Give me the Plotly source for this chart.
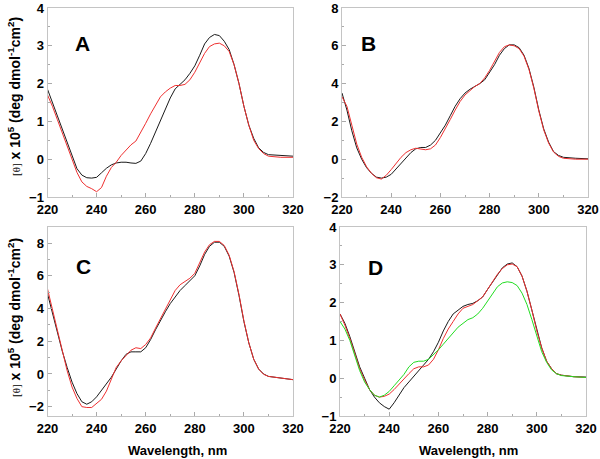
import plotly.graph_objects as go

wl = [220, 222, 224, 226, 228, 230, 232, 234, 236, 238, 240, 242, 244, 246, 248, 250,
      252, 254, 256, 258, 260, 262, 264, 266, 268, 270, 272, 274, 276, 278, 280, 282,
      284, 286, 288, 290, 292, 294, 296, 298, 300, 302, 304, 306, 308, 310, 315, 320]

a_black = [1.85, 1.5, 1.15, 0.8, 0.45, 0.1, -0.25, -0.42, -0.49, -0.5, -0.48, -0.36, -0.24, -0.15, -0.1, -0.08,
           -0.08, -0.1, -0.11, -0.05, 0.15, 0.42, 0.72, 1.02, 1.32, 1.62, 1.86, 1.98, 2.1, 2.27, 2.47, 2.75,
           3.05, 3.22, 3.3, 3.27, 3.12, 2.9, 2.5, 2.0, 1.4, 0.9, 0.55, 0.3, 0.18, 0.12, 0.1, 0.08]
a_red = [1.7, 1.4, 1.05, 0.7, 0.35, 0.0, -0.35, -0.6, -0.72, -0.78, -0.86, -0.75, -0.45, -0.22, -0.08, 0.1,
         0.25, 0.38, 0.48, 0.7, 0.95, 1.2, 1.42, 1.65, 1.78, 1.88, 1.95, 1.95, 1.98, 2.1, 2.3, 2.55,
         2.8, 2.98, 3.05, 3.07, 3.0, 2.85, 2.5, 2.0, 1.4, 0.9, 0.5, 0.28, 0.15, 0.08, 0.05, 0.05]

b_black = [3.5, 2.6, 1.5, 0.6, 0.0, -0.45, -0.75, -0.95, -1.0, -0.95, -0.8, -0.5, -0.2, 0.1, 0.35, 0.55,
           0.62, 0.62, 0.75, 1.0, 1.4, 1.8, 2.3, 2.8, 3.2, 3.5, 3.7, 3.85, 4.0, 4.2, 4.6, 5.0,
           5.5, 5.85, 6.05, 6.05, 5.9, 5.5, 4.8, 3.8, 2.6, 1.6, 0.9, 0.4, 0.2, 0.1, 0.05, 0.02]
b_red = [3.3, 2.8, 1.8, 0.8, 0.1, -0.4, -0.75, -0.98, -1.05, -0.85, -0.55, -0.2, 0.1, 0.35, 0.5, 0.58,
         0.55, 0.5, 0.55, 0.75, 1.15, 1.6, 2.1, 2.6, 3.05, 3.4, 3.65, 3.85, 4.0, 4.3, 4.7, 5.15,
         5.65, 5.95, 6.05, 6.0, 5.85, 5.45, 4.75, 3.75, 2.55, 1.55, 0.85, 0.38, 0.15, 0.05, 0.0, 0.0]

c_black = [4.9, 3.7, 2.5, 1.4, 0.4, -0.5, -1.2, -1.7, -1.85, -1.7, -1.4, -1.0, -0.6, -0.2, 0.3, 0.8,
           1.2, 1.35, 1.35, 1.35, 1.6, 2.1, 2.7, 3.3, 3.8, 4.3, 4.7, 5.1, 5.4, 5.7, 6.0, 6.6,
           7.3, 7.8, 8.05, 8.05, 7.8, 7.2, 6.2, 4.8, 3.2, 1.9, 0.9, 0.3, 0.0, -0.15, -0.25, -0.35]
c_red = [5.2, 3.9, 2.6, 1.3, 0.2, -0.8, -1.5, -2.0, -2.05, -2.05, -1.8, -1.55, -1.05, -0.3, 0.4, 0.8,
         1.15, 1.45, 1.6, 1.55, 1.8, 2.2, 2.8, 3.4, 4.0, 4.6, 5.1, 5.45, 5.65, 5.85, 6.15, 6.8,
         7.45, 7.9, 8.1, 8.1, 7.85, 7.25, 6.25, 4.85, 3.25, 1.9, 0.9, 0.3, -0.02, -0.15, -0.25, -0.35]

d_black = [1.7, 1.45, 1.1, 0.7, 0.3, 0.0, -0.3, -0.5, -0.65, -0.75, -0.82, -0.65, -0.45, -0.25, -0.1, 0.05,
           0.2, 0.35, 0.5, 0.7, 0.95, 1.25, 1.5, 1.7, 1.8, 1.9, 1.95, 1.98, 2.05, 2.15, 2.35, 2.55,
           2.75, 2.92, 3.02, 3.05, 2.95, 2.7, 2.3, 1.8, 1.25, 0.8, 0.45, 0.25, 0.12, 0.08, 0.04, 0.03]
d_red = [1.7, 1.4, 1.05, 0.65, 0.25, -0.05, -0.3, -0.45, -0.5, -0.48, -0.42, -0.3, -0.15, 0.0, 0.12, 0.25,
         0.3, 0.3, 0.35, 0.5, 0.75, 1.05, 1.3, 1.5, 1.7, 1.85, 1.9, 1.95, 2.05, 2.15, 2.35, 2.55,
         2.75, 2.9, 3.0, 3.02, 2.95, 2.7, 2.3, 1.8, 1.25, 0.8, 0.45, 0.25, 0.12, 0.08, 0.04, 0.02]
d_green = [1.5, 1.3, 1.0, 0.6, 0.2, -0.1, -0.3, -0.45, -0.5, -0.45, -0.35, -0.2, -0.05, 0.1, 0.3, 0.42,
           0.45, 0.45, 0.5, 0.62, 0.75, 0.9, 1.05, 1.2, 1.35, 1.45, 1.55, 1.6, 1.7, 1.85, 2.05, 2.25,
           2.42, 2.52, 2.55, 2.53, 2.45, 2.25, 1.95, 1.55, 1.1, 0.7, 0.42, 0.22, 0.12, 0.07, 0.04, 0.02]

x_ticks = [220, 240, 260, 280, 300, 320]
panel_labels = ["A", "B", "C", "D"]

BLACK = "#1a1a1a"
RED = "#ee3030"
GREEN = "#22dd22"

panels = [
    ("x", "y", [(a_black, BLACK), (a_red, RED)]),
    ("x2", "y2", [(b_black, BLACK), (b_red, RED)]),
    ("x3", "y3", [(c_black, BLACK), (c_red, RED)]),
    ("x4", "y4", [(d_black, BLACK), (d_red, RED), (d_green, GREEN)]),
]

fig = go.Figure()
for xa, ya, series in panels:
    for vals, col in series:
        fig.add_trace(go.Scatter(x=wl, y=vals, xaxis=xa, yaxis=ya, mode="lines",
                                 line=dict(color=col, width=1), showlegend=False,
                                 hoverinfo="skip"))

W, H = 600, 459
def dx(a, b):
    return [a / W, b / W]
def dy(top, bot):
    return [1 - bot / H, 1 - top / H]

tickfont = dict(family="Arial, Liberation Sans, sans-serif", size=13, color="black", weight="bold")

def xax(domain, anchor):
    return dict(domain=domain, anchor=anchor, range=[220, 320], tickvals=x_ticks,
                automargin=False,
                ticks="inside", ticklen=4, tickcolor="#aaaaaa", showline=True,
                linecolor="#c4c4c4", linewidth=1, mirror=True, showgrid=False, zeroline=False,
                tickfont=tickfont,
                minor=dict(ticks="inside", ticklen=2, dtick=10, tick0=220, tickcolor="#aaaaaa"))

def yax(domain, anchor, rng, dtick):
    return dict(domain=domain, anchor=anchor, range=rng, dtick=dtick, tick0=0,
                automargin=False,
                ticks="inside", ticklen=4, tickcolor="#aaaaaa", showline=True,
                linecolor="#c4c4c4", linewidth=1, mirror=True, showgrid=False, zeroline=False,
                tickfont=tickfont,
                minor=dict(ticks="inside", ticklen=2, dtick=dtick / 2, tick0=0, tickcolor="#aaaaaa"))

xA = dx(47.5, 293)
xB = dx(342, 588)
xD = dx(340, 586)
yTop = dy(8, 197)
yBot = dy(227, 416)

fig.update_layout(
    width=W, height=H,
    margin=dict(l=0, r=0, t=0, b=0, autoexpand=False),
    paper_bgcolor="white", plot_bgcolor="white",
    xaxis=xax(xA, "y"), yaxis=yax(yTop, "x", [-1, 4], 1),
    xaxis2=xax(xB, "y2"), yaxis2=yax(yTop, "x2", [-2, 8], 2),
    xaxis3=xax(xA, "y3"), yaxis3=yax(yBot, "x3", [-2.57, 8.98], 2),
    xaxis4=xax(xD, "y4"), yaxis4=yax(yBot, "x4", [-1, 4], 1),
)

letter_pos = [(82, 43), (368, 43), (83, 266), (375, 267)]
for lab, (px, py) in zip(panel_labels, letter_pos):
    fig.add_annotation(text=lab, x=px / W, y=1 - py / H, xref="paper", yref="paper",
                       showarrow=False, xanchor="center", yanchor="middle",
                       font=dict(family="Arial, Liberation Sans, sans-serif", size=21,
                                 color="black", weight="bold"))

ytitle = ("<span style='font-family:Times New Roman, Liberation Serif, serif;font-weight:normal;font-size:11px'>[θ]</span>"
          " x 10<sup>5</sup> (deg dmol<sup>-1</sup>cm<sup>2</sup>)")
for cy in (97, 318):
    fig.add_annotation(text=ytitle, x=14 / W, y=1 - cy / H, xref="paper", yref="paper",
                       showarrow=False, textangle=-90, xanchor="center", yanchor="middle",
                       font=dict(family="Arial, Liberation Sans, sans-serif", size=14,
                                 color="black", weight="bold"))

for cx in (177, 468):
    fig.add_annotation(text="Wavelength, nm", x=cx / W, y=1 - 450 / H, xref="paper", yref="paper",
                       showarrow=False, xanchor="center", yanchor="middle",
                       font=dict(family="Arial, Liberation Sans, sans-serif", size=13,
                                 color="black", weight="bold"))

fig.write_html("out.html", config={"displayModeBar": False},
               post_script="document.body.style.margin='0';document.body.style.overflow='hidden';")
